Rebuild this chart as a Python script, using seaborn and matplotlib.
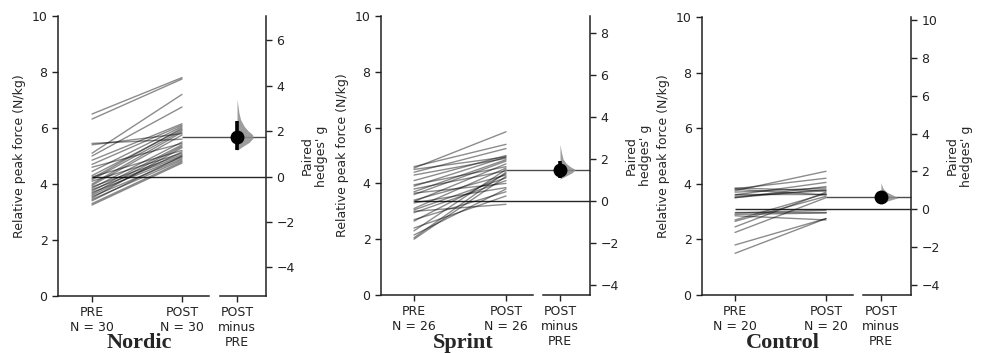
import numpy as np
import pandas as pd
import matplotlib
matplotlib.use("Agg")
import matplotlib.pyplot as plt
import seaborn as sns
from matplotlib.transforms import blended_transform_factory
from matplotlib.ticker import MultipleLocator

# ---------------- data ----------------
groups = ["Nordic", "Sprint", "Control"]

nordic_pre = [6.5, 6.32, 5.45, 5.4, 5.1, 5.0, 4.85, 4.7, 4.6, 4.45, 4.3, 4.25, 4.2, 4.15, 4.1,
              4.0, 3.95, 3.9, 3.85, 3.8, 3.75, 3.7, 3.65, 3.6, 3.55, 3.5, 3.45, 3.4, 3.3, 3.25]
nordic_post = [7.8, 7.75, 5.6, 5.8, 7.2, 6.75, 6.15, 6.1, 5.45, 6.05, 5.95, 5.2, 6.0, 5.9, 5.1,
               5.85, 5.75, 5.05, 5.5, 5.0, 5.4, 4.95, 5.35, 5.15, 4.9, 5.3, 4.85, 5.0, 4.8, 4.75]

sprint_pre = [4.6, 4.55, 4.5, 4.4, 4.3, 4.1, 3.95, 3.9, 3.8, 3.7, 3.65, 3.6, 3.4, 3.35, 3.3,
              3.1, 3.05, 3.0, 2.95, 2.7, 2.65, 2.4, 2.3, 2.15, 2.05, 2.0]
sprint_post = [5.4, 5.85, 4.95, 5.25, 4.9, 5.0, 4.6, 4.95, 4.45, 4.85, 4.0, 4.8, 4.3, 4.7, 3.85,
               4.55, 4.2, 3.25, 4.1, 3.7, 4.35, 3.55, 4.5, 3.8, 4.4, 4.25]

control_pre = [3.85, 3.82, 3.8, 3.75, 3.7, 3.65, 3.6, 3.55, 3.5, 3.5, 2.95, 3.0, 2.9, 2.85,
               2.7, 2.65, 2.45, 2.25, 1.8, 1.5]
control_post = [3.75, 4.2, 3.6, 4.45, 3.85, 3.65, 4.05, 3.75, 3.9, 3.8, 3.05, 3.0, 2.95, 2.7,
                3.65, 3.55, 3.7, 3.5, 2.75, 2.75]

# paired Hedges' g and 95% CI
hedges_g = [1.74, 1.48, 0.65]
ci_low = [1.18, 1.08, 0.40]
ci_high = [2.46, 1.90, 0.92]

# bootstrap distribution outline: g levels and relative density (0..1)
dist_g = [
    [1.15, 1.30, 1.50, 1.70, 1.85, 2.00, 2.20, 2.50, 2.80, 3.10, 3.40],
    [1.05, 1.20, 1.35, 1.50, 1.65, 1.80, 2.00, 2.30, 2.70],
    [0.30, 0.45, 0.60, 0.75, 0.90, 1.10, 1.40],
]
dist_d = [
    [0.0, 0.30, 0.75, 1.0, 0.95, 0.70, 0.45, 0.22, 0.12, 0.06, 0.0],
    [0.0, 0.40, 0.80, 1.0, 0.65, 0.40, 0.20, 0.10, 0.0],
    [0.0, 0.45, 1.0, 0.70, 0.35, 0.12, 0.0],
]

pre_all = [nordic_pre, sprint_pre, control_pre]
post_all = [nordic_post, sprint_post, control_post]

# ---------------- layout (pixels) ----------------
W, H = 981, 353
boxes = [(58, 266, 16, 296), (381, 590, 16, 295), (702, 911, 17, 295)]
xlims = [(-0.378, 1.933), (-0.359, 1.913), (-0.363, 1.934)]
breaks = [(1.30, 1.422), (1.293, 1.402), (1.297, 1.407)]
cxs = [1.611, 1.587, 1.604]
vwidth = [0.18, 0.165, 0.185]

sns.set_style("ticks")
plt.rcParams["font.family"] = ["DejaVu Sans"]
plt.rcParams["font.size"] = 9

fig = plt.figure(figsize=(W / 100, H / 100), dpi=100)

for i, name in enumerate(groups):
    l, r, t, b = boxes[i]
    ax = fig.add_axes([l / W, (H - b) / H, (r - l) / W, (b - t) / H])
    pre = pre_all[i]
    post = post_all[i]
    n = len(pre)
    df = pd.DataFrame({
        "subject": list(range(n)) * 2,
        "x": [0] * n + [1] * n,
        "value": pre + post,
    })
    sns.lineplot(data=df, x="x", y="value", units="subject", estimator=None,
                 color="black", alpha=0.45, linewidth=1.0, ax=ax, legend=False)

    pre_mean = float(np.mean(pre))
    post_mean = float(np.mean(post))
    xr = xlims[i][1]
    ax.hlines(pre_mean, 0, xr, color="black", lw=1.0, alpha=0.85, clip_on=False, zorder=3)
    ax.hlines(post_mean, 1, xr, color="black", lw=1.0, alpha=0.7, clip_on=False, zorder=3)

    ax.set_xlim(*xlims[i])
    ax.set_ylim(0, 10)
    ax.set_yticks([0, 2, 4, 6, 8, 10])
    ax.set_xticks([0, 1, cxs[i]])
    ax.set_xticklabels([f"PRE\nN = {n}", f"POST\nN = {n}", "POST\nminus\nPRE"])
    ax.set_xlabel("")
    ax.set_ylabel("Relative peak force (N/kg)", fontsize=9)
    ax.spines["top"].set_visible(False)
    ax.spines["right"].set_visible(False)
    ax.spines["bottom"].set_bounds(xlims[i][0], breaks[i][0])
    for s in ("left", "bottom"):
        ax.spines[s].set_linewidth(1.1)
        ax.spines[s].set_color("#222222")
    ax.tick_params(axis="both", length=4, width=1, labelsize=9, colors="#222222")
    ax.patch.set_visible(False)

    # contrast axis
    ax2 = ax.twinx()
    g = hedges_g[i]
    sc = (post_mean - pre_mean) / g
    ax2.set_ylim((0 - pre_mean) / sc, (10 - pre_mean) / sc)
    ax2.yaxis.set_major_locator(MultipleLocator(2))
    cx = cxs[i]
    dg = np.array(dist_g[i])
    dd = np.array(dist_d[i]) * vwidth[i]
    ax2.fill_betweenx(dg, cx, cx + dd, color="#8c8c8c", alpha=0.85, lw=0, zorder=2)
    ax2.plot([cx, cx], [ci_low[i], ci_high[i]], color="black", lw=2.6,
             solid_capstyle="butt", zorder=4)
    ax2.plot([cx], [g], "o", color="black", ms=9, zorder=5)
    ax2.set_ylabel("Paired\nhedges' g", fontsize=9)
    ax2.spines["top"].set_visible(False)
    ax2.spines["left"].set_visible(False)
    ax2.spines["bottom"].set_visible(True)
    ax2.spines["bottom"].set_bounds(breaks[i][1], xr)
    for s in ("right", "bottom"):
        ax2.spines[s].set_linewidth(1.1)
        ax2.spines[s].set_color("#222222")
    ax2.tick_params(axis="y", length=4, width=1, labelsize=9, colors="#222222")

    tr = blended_transform_factory(ax.transData, fig.transFigure)
    fig.text(0.53, 0.014, name, transform=tr, ha="center", va="baseline",
             fontfamily="Liberation Serif", fontweight="bold", fontsize=16)

fig.savefig("out.png", dpi=100)
